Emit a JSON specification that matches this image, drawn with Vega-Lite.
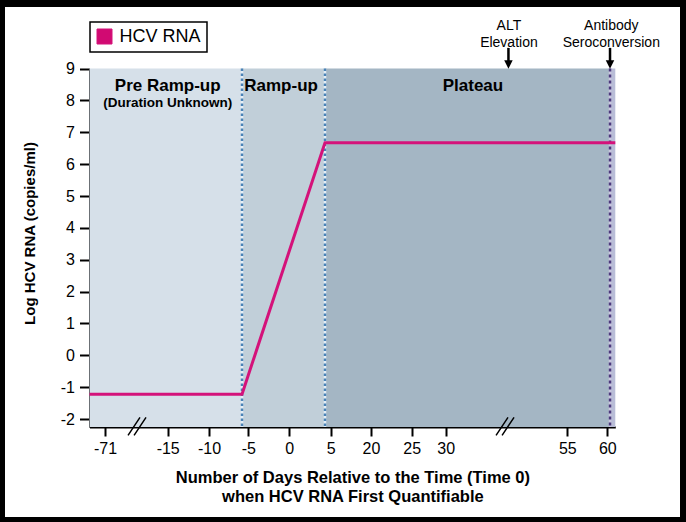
{
  "$schema": "https://vega.github.io/schema/vega-lite/v6.json",
  "width": 675,
  "height": 510,
  "autosize": "none",
  "padding": {"left": 5, "top": 7, "right": 6, "bottom": 5},
  "background": "black",
  "config": {
    "font": "Liberation Sans",
    "view": {"fill": "white", "stroke": null}
  },
  "encoding": {
    "x": {
      "field": "day",
      "type": "quantitative",
      "scale": {
        "domain": [-77, -71, -15, -10, -5, 0, 5, 20, 25, 30, 55, 60, 61],
        "range": [84.5, 100, 162.7, 204, 243.3, 284.3, 325.7, 366, 406.7, 440.7, 562.3, 602.3, 610.3],
        "nice": false,
        "zero": false
      },
      "axis": {
        "values": [-71, -15, -10, -5, 0, 5, 20, 25, 30, 55, 60],
        "labelExpr": "'' + datum.value",
        "offset": -90,
        "grid": false,
        "domainColor": "black",
        "domainWidth": 2,
        "tickColor": "black",
        "tickWidth": 2,
        "tickSize": 9,
        "labelPadding": 4,
        "labelFontSize": 16,
        "labelColor": "black",
        "labelFlush": false,
        "labelOverlap": false,
        "title": ["Number of Days Relative to the Time (Time 0)", "when HCV RNA First Quantifiable"],
        "titleFontSize": 16.5,
        "titleFontWeight": "bold",
        "titleColor": "black",
        "titleBaseline": "alphabetic",
        "titleY": 55,
        "titleLineHeight": 19
      }
    },
    "y": {
      "field": "log",
      "type": "quantitative",
      "scale": {"domain": [-2.25, 9.0], "range": [420, 61.6], "nice": false, "zero": false},
      "axis": {
        "values": [-2, -1, 0, 1, 2, 3, 4, 5, 6, 7, 8, 9],
        "labelExpr": "'' + datum.value",
        "offset": -84.5,
        "grid": false,
        "domainColor": "black",
        "domainWidth": 2,
        "tickColor": "black",
        "tickWidth": 2,
        "tickSize": 10,
        "labelPadding": 5,
        "labelFontSize": 16,
        "labelColor": "black",
        "labelFlush": false,
        "labelOverlap": false,
        "title": "Log HCV RNA (copies/ml)",
        "titleFontSize": 15,
        "titleFontWeight": "bold",
        "titleColor": "black",
        "titleBaseline": "alphabetic",
        "titleX": -55,
        "titleY": 226
      }
    }
  },
  "layer": [
    {
      "data": {"values": [
        {"day": -77, "day2": -5.8, "log": 9.0, "log2": -2.25, "phase": "Pre Ramp-up"},
        {"day": -5.8, "day2": 4.31, "log": 9.0, "log2": -2.25, "phase": "Ramp-up"},
        {"day": 4.31, "day2": 60.34, "log": 9.0, "log2": -2.25, "phase": "Plateau"},
        {"day": 60.34, "day2": 61, "log": 9.0, "log2": -2.25, "phase": "Post"}
      ]},
      "mark": {"type": "rect"},
      "encoding": {
        "x2": {"field": "day2"},
        "y2": {"field": "log2"},
        "fill": {
          "field": "phase",
          "type": "nominal",
          "scale": {"domain": ["Pre Ramp-up", "Ramp-up", "Plateau", "Post"], "range": ["#d6e0e9", "#c1cfd9", "#a4b6c4", "#b9bdd7"]},
          "legend": null
        }
      }
    },
    {
      "data": {"values": [{"day": -5.8, "log": 9.0, "log2": -2.25}, {"day": 4.31, "log": 9.0, "log2": -2.25}]},
      "mark": {"type": "rule", "stroke": "#e4eef6", "strokeWidth": 2.5},
      "encoding": {"y2": {"field": "log2"}}
    },
    {
      "data": {"values": [{"day": -5.8, "log": 9.0, "log2": -2.25}, {"day": 4.31, "log": 9.0, "log2": -2.25}]},
      "mark": {"type": "rule", "stroke": "#4a82b5", "strokeWidth": 2.5, "strokeDash": [2.5, 2.5]},
      "encoding": {"y2": {"field": "log2"}}
    },
    {
      "data": {"values": [{"day": 60.34, "log": 9.0, "log2": -2.25}]},
      "mark": {"type": "rule", "stroke": "#c9c6de", "strokeWidth": 2.5},
      "encoding": {"y2": {"field": "log2"}}
    },
    {
      "data": {"values": [{"day": 60.34, "log": 9.0, "log2": -2.25}]},
      "mark": {"type": "rule", "stroke": "#4b3a7c", "strokeWidth": 2.5, "strokeDash": [3, 3]},
      "encoding": {"y2": {"field": "log2"}}
    },
    {
      "data": {"values": [
        {"day": -77, "log": -1.22, "series": "HCV RNA"},
        {"day": -5.8, "log": -1.22, "series": "HCV RNA"},
        {"day": 4.31, "log": 6.67, "series": "HCV RNA"},
        {"day": 61, "log": 6.67, "series": "HCV RNA"}
      ]},
      "mark": {"type": "line", "strokeWidth": 3},
      "encoding": {
        "stroke": {
          "field": "series",
          "type": "nominal",
          "scale": {"domain": ["HCV RNA"], "range": ["#d4127a"]},
          "legend": {
            "title": null,
            "orient": "none",
            "legendX": 85,
            "legendY": 15,
            "symbolType": "square",
            "symbolSize": 225,
            "labelFontSize": 18,
            "labelColor": "black",
            "labelOffset": 6,
            "padding": 5.5,
            "strokeColor": "black",
            "fillColor": "white",
            "encode": {
              "symbols": {"update": {"fill": {"value": "#d10a72"}, "stroke": {"value": "#333333"}, "strokeWidth": {"value": 1}, "opacity": {"value": 1}}},
              "legend": {"update": {"strokeWidth": {"value": 1.5}}}
            }
          }
        }
      }
    },
    {
      "data": {"values": [
        {"day": -15, "log": 8.31, "label": "Pre Ramp-up"},
        {"day": -1, "log": 8.31, "label": "Ramp-up"},
        {"day": 35.6, "log": 8.31, "label": "Plateau"}
      ]},
      "mark": {"type": "text", "fontSize": 17, "fontWeight": "bold", "color": "black", "align": "center", "baseline": "alphabetic"},
      "encoding": {"text": {"field": "label"}}
    },
    {
      "data": {"values": [
        {"day": -15, "log": 7.8, "label": "(Duration Unknown)"}
      ]},
      "mark": {"type": "text", "fontSize": 13.5, "fontWeight": "bold", "color": "black", "align": "center", "baseline": "alphabetic"},
      "encoding": {"text": {"field": "label"}}
    },
    {
      "data": {"values": [
        {"day": 43, "log": 10.21, "label": "ALT"},
        {"day": 43, "log": 9.69, "label": "Elevation"},
        {"day": 60.5, "log": 10.21, "label": "Antibody"},
        {"day": 60.5, "log": 9.69, "label": "Seroconversion"}
      ]},
      "mark": {"type": "text", "fontSize": 14, "color": "black", "align": "center", "baseline": "alphabetic"},
      "encoding": {"text": {"field": "label"}}
    },
    {
      "data": {"values": [
        {"day": 42.9, "log": 9.65, "log2": 9.22},
        {"day": 60.34, "log": 9.65, "log2": 9.22}
      ]},
      "mark": {"type": "rule", "stroke": "black", "strokeWidth": 2.5},
      "encoding": {"y2": {"field": "log2"}}
    },
    {
      "data": {"values": [
        {"day": 42.9, "log": 9.13},
        {"day": 60.34, "log": 9.13}
      ]},
      "mark": {"type": "point", "shape": "M -1 -1 L 1 -1 L 0 1 Z", "size": 72, "filled": true, "fill": "black", "stroke": null, "opacity": 1}
    },
    {
      "data": {"values": [
        {"day": -42.4, "log": -2.23},
        {"day": 42.2, "log": -2.23}
      ]},
      "mark": {"type": "point", "shape": "M -1 1 L 0.33 -1 M -0.33 1 L 1 -1", "size": 324, "filled": false, "stroke": "black", "strokeWidth": 1.5, "opacity": 1}
    }
  ]
}
